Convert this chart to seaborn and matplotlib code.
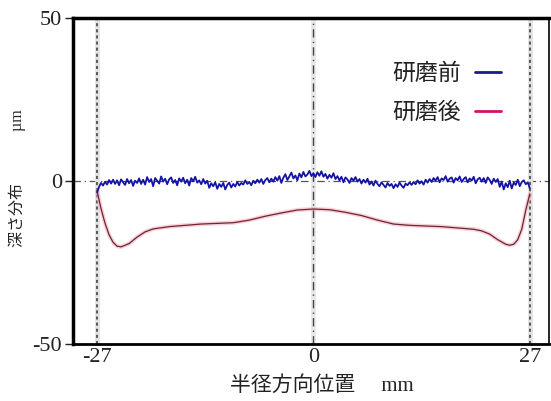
import numpy as np
import pandas as pd
import matplotlib
matplotlib.use("Agg")
import matplotlib.pyplot as plt
from matplotlib.lines import Line2D
import seaborn as sns

# ---------------- data ----------------
x_ticks = [-27, 0, 27]
y_ticks = [-50, 0, 50]
labels = ["研磨前", "研磨後"]

# before polishing: measured profile, sampled every 0.25 mm from -27 to 27
before_vals = [
    -3.5, -1.8, -0.6, -1.4, -0.2,
    -1.1, 0.3, -0.8, 0.4,
    -0.9, 0.2, -1.3, 0.5,
    -0.4, -1.2, 0.6, -0.7,
    0.3, -1.5, 0.1, -0.6,
    0.8, -0.9, 0.4, -1.1,
    1.2, -0.3, 0.6, -1.6,
    0.9, 0.1, -0.8, 1.4,
    -0.2, 0.7, -1.0, 0.5,
    1.1, -0.6, 0.3, -1.3,
    0.8, -0.2, 1.0, -0.7,
    0.4, -1.4, 0.9, -0.1,
    1.3, -0.5, 0.2, -1.0,
    0.6, -0.8, 0.1, -2.1,
    -0.7, -1.6, -0.4, -2.4,
    -0.9, -1.8, -0.6, -2.6,
    -1.2, -0.5, -2.0, -0.9,
    -1.7, -0.3, -1.4, -0.6,
    -1.1, 0.2, -0.9, -0.3,
    -1.3, 0.1, -0.7, 0.4,
    -0.5, 0.6, -0.9, 0.3,
    0.9, -0.4, 0.7, -0.2,
    1.2, 0.1, 1.5, -0.6,
    1.0, 2.1, 0.3, 1.4,
    2.6, 0.8, 1.7, 0.2,
    2.3, 1.1, 2.8, 1.4,
    2.0, 3.1, 1.5, 2.4,
    1.2, 2.7, 1.6, 3.0,
    1.3, 2.2, 0.7, 1.9,
    1.0, 2.4, 0.6, 1.5,
    0.2, 1.3, -0.4, 1.1,
    0.5, -0.6, 0.9, 0.1,
    1.2, -0.2, 0.6, -0.8,
    0.4, -0.5, 0.7, -1.1,
    -0.2, -1.4, 0.1, -0.9,
    -1.6, -0.4, -1.2, -2.0,
    -0.6, -1.5, -0.9, -2.2,
    -1.0, -1.8, -0.5, -1.4,
    -2.1, -0.8, -1.3, -0.4,
    -1.2, -0.3, -1.0, 0.2,
    -0.8, -0.1, -1.1, 0.4,
    -0.5, 0.6, -0.3, 0.9,
    0.1, 1.2, -0.4, 0.8,
    0.3, 1.5, -0.2, 0.7,
    1.1, -0.5, 0.9, 0.2,
    1.4, -0.3, 0.6, 1.2,
    -0.4, 0.8, 0.1, 1.3,
    -0.7, 0.5, 1.0, -0.2,
    0.9, -0.6, 1.1, 0.3,
    -0.9, 0.7, -0.3, 0.6,
    -1.8, -0.2, -2.6, -0.7,
    -1.9, 0.1, -2.3, -0.5,
    -1.2, 0.4, -1.6, -0.3,
    0.2, -1.0, -0.4, -2.2,
]
before_x = np.linspace(-27, 27, len(before_vals))

# after polishing
after_x = [-27, -26.5, -26, -25.5, -25, -24.5, -24, -23, -22, -21, -20, -18, -16,
           -14, -12, -10, -8, -6, -4, -2, 0, 2, 4, 6, 8, 10, 12, 14, 16, 18, 20,
           21, 22, 23, 24, 24.5, 25, 25.5, 26, 26.5, 27]
after_vals = [-3, -8.5, -13, -16.5, -18.8, -20, -20.2, -19.2, -17.2, -15.6, -14.7,
              -14, -13.6, -13.2, -13, -12.8, -12, -10.8, -9.8, -8.9, -8.6, -8.8,
              -9.6, -10.6, -12, -13.2, -13.6, -13.8, -14, -14.4, -14.8, -15.3,
              -16.3, -18, -19.4, -19.7, -19.4, -18, -14.8, -9, -4]

df_before = pd.DataFrame({"x": before_x, "y": before_vals})
df_after = pd.DataFrame({"x": after_x, "y": after_vals})

# ---------------- style ----------------
sns.set_theme(style="white")
plt.rcParams["font.family"] = ["Liberation Serif", "Noto Sans CJK JP", "DejaVu Sans"]

fig = plt.figure(figsize=(5.51, 4.01), dpi=100)
ax = fig.add_axes([73 / 551, 1 - 344 / 401, 476 / 551, 326 / 401])

# reference lines
ax.axhline(0, color="#555555", lw=0.9, ls=(0, (6, 3, 1, 3)), zorder=1)
for xv in (-27, 27):
    ax.axvline(xv, color="#e2e2e2", lw=3.5, zorder=1)
    ax.axvline(xv, color="#333333", lw=1.1, ls=(0, (2, 2)), zorder=2)
ax.axvline(0, color="#e8e8e8", lw=3.5, zorder=1)
ax.axvline(0, color="#444444", lw=1.0, ls=(0, (6, 3, 1, 3)), zorder=2)

# data
sns.lineplot(data=df_after, x="x", y="y", ax=ax, color="#f2a8bb", lw=3.0,
             alpha=0.55, zorder=3, legend=False)
sns.lineplot(data=df_after, x="x", y="y", ax=ax, color="#6e2431", lw=0.9,
             zorder=4, legend=False)
sns.lineplot(data=df_before, x="x", y="y", ax=ax, color="#1414a4", lw=1.3,
             zorder=5, legend=False)

ax.set_xlim(-30, 29.4)
ax.set_ylim(-50, 50)
ax.set_xticks(x_ticks)
ax.set_xticklabels([str(v) for v in x_ticks])
ax.set_yticks(y_ticks)
ax.set_yticklabels([str(v) for v in y_ticks])
ax.tick_params(axis="x", direction="in", length=5, width=1, labelsize=16,
               pad=3, colors="#222222", bottom=True)
ax.tick_params(axis="y", direction="out", length=6, width=1, labelsize=16,
               pad=2, colors="#222222", left=True)

for side, lw in (("left", 2.5), ("bottom", 2.0), ("top", 2.5), ("right", 1.2)):
    ax.spines[side].set_color("black")
    ax.spines[side].set_linewidth(lw)

ax.set_xlabel("半径方向位置\u3000 mm", fontsize=15, color="#222222")
ax.xaxis.set_label_coords((322 - 73) / 476, (344 - 376) / 326)
ax.set_ylabel("深さ分布\u3000\u3000\u3000 µm", fontsize=11.5, color="#222222")
ax.yaxis.set_label_coords((26 - 73) / 476, 0.51)

handles = [Line2D([], [], color="#1a1a8c", lw=2),
           Line2D([], [], color="#d4106a", lw=2)]
leg = ax.legend(handles, labels, loc="upper right", markerfirst=False,
                frameon=False, handlelength=1.15, handletextpad=0.6,
                labelspacing=0.7, borderpad=0, borderaxespad=0,
                bbox_to_anchor=((501 - 73) / 476, 1 - (62 - 18) / 326),
                prop={"family": ["Noto Sans CJK JP"], "size": 16.5})
for t in leg.get_texts():
    t.set_color("#222222")

fig.savefig("out.png", dpi=100)
